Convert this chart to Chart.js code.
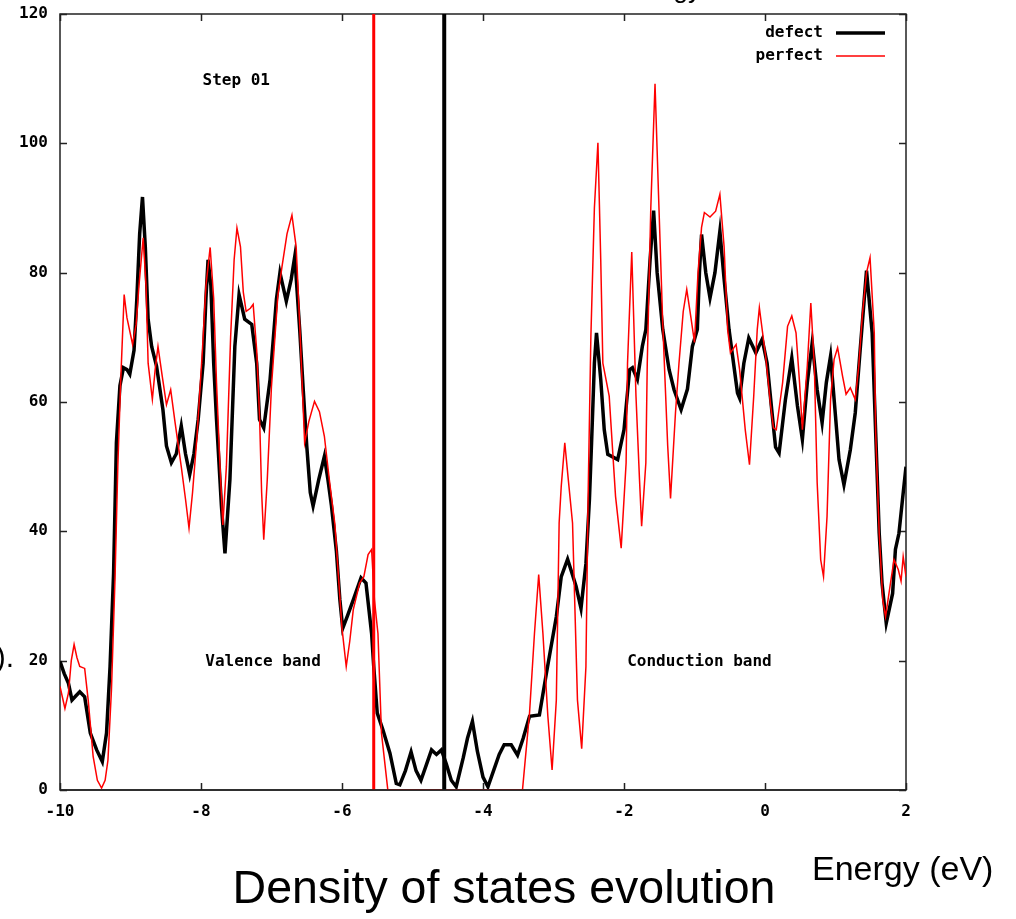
<!DOCTYPE html>
<html lang="en">
<head>
<meta charset="UTF-8" />
<title>Density of states evolution</title>
<script src="https://cdn.jsdelivr.net/npm/chart.js"></script>
<style>
  body { margin: 0; background: #fff; }
  canvas { display: block; }
</style>
</head>
<body>
<canvas id="dos" width="1016" height="919"></canvas>
<script>
  // energies (eV) and DOS
  const defectEnergy = [
    -10.00, -9.94, -9.88, -9.83, -9.78, -9.72, -9.65, -9.57, -9.48, -9.40,
    -9.34, -9.29, -9.24, -9.20, -9.15, -9.10, -9.05, -9.01, -8.95, -8.91,
    -8.87, -8.83, -8.79, -8.75, -8.70, -8.63, -8.54, -8.49, -8.42, -8.35,
    -8.28, -8.22, -8.16, -8.10, -8.04, -7.97, -7.93, -7.90, -7.86, -7.82,
    -7.78, -7.71, -7.66, -7.59, -7.52, -7.46, -7.38, -7.28, -7.21, -7.17,
    -7.11, -7.02, -6.93, -6.88, -6.79, -6.72, -6.67, -6.60, -6.55, -6.50,
    -6.45, -6.41, -6.33, -6.25, -6.20, -6.15, -6.08, -6.03, -5.99, -5.92,
    -5.84, -5.73, -5.66, -5.58, -5.55, -5.50, -5.42, -5.32, -5.23, -5.18,
    -5.10, -5.02, -4.95, -4.88, -4.80, -4.73, -4.66, -4.59, -4.52, -4.45,
    -4.38, -4.28, -4.22, -4.15, -4.08, -4.00, -3.93, -3.85, -3.77, -3.70,
    -3.60, -3.51, -3.43, -3.34, -3.20, -3.10, -2.96, -2.89, -2.80, -2.68,
    -2.61, -2.54, -2.49, -2.46, -2.42, -2.39, -2.33, -2.28, -2.23, -2.09,
    -2.00, -1.92, -1.88, -1.81, -1.74, -1.69, -1.63, -1.58, -1.53, -1.45,
    -1.36, -1.29, -1.19, -1.10, -1.03, -0.96, -0.93, -0.90, -0.84, -0.78,
    -0.71, -0.64, -0.58, -0.51, -0.46, -0.39, -0.36, -0.30, -0.23, -0.13,
    -0.04, 0.03, 0.10, 0.15, 0.20, 0.29, 0.38, 0.46, 0.53, 0.60,
    0.67, 0.74, 0.81, 0.87, 0.93, 1.00, 1.05, 1.12, 1.21, 1.28,
    1.35, 1.44, 1.52, 1.57, 1.62, 1.66, 1.72, 1.81, 1.85, 1.90,
    1.95, 2.00
  ];
  const defectDos = [
    19.9, 18.0, 16.5, 13.9, 14.5, 15.2, 14.4, 8.8, 6.2, 4.4,
    8.8, 19.1, 33.5, 53.7, 62.5, 65.3, 65.0, 64.3, 68.0, 76.0,
    86.0, 91.7, 84.0, 72.8, 68.6, 65.5, 58.8, 53.2, 50.6, 52.0,
    56.3, 52.0, 48.8, 52.0, 57.3, 66.0, 76.0, 82.0, 78.0, 66.0,
    57.3, 43.9, 36.6, 48.0, 68.6, 76.6, 72.8, 72.0, 66.0, 57.3,
    56.0, 63.5, 75.9, 80.0, 75.6, 79.0, 82.5, 71.2, 61.9, 53.2,
    46.0, 43.9, 48.0, 51.6, 48.0, 44.0, 37.0, 29.4, 25.0, 27.0,
    29.4, 32.8, 32.0, 24.2, 19.1, 11.9, 9.3, 5.7, 1.0, 0.8,
    3.0, 5.9, 3.0, 1.5, 4.0, 6.2, 5.5, 6.2, 4.0, 1.5,
    0.5, 5.0, 8.0, 10.6, 6.0, 2.0, 0.5, 3.0, 5.5, 7.0,
    7.0, 5.4, 8.0, 11.4, 11.6, 18.1, 26.8, 33.0, 35.7, 31.5,
    28.1, 35.0, 45.0, 53.7, 66.0, 70.7, 63.5, 55.7, 51.9, 51.1,
    55.7, 65.0, 65.3, 63.5, 68.6, 71.2, 82.0, 89.6, 80.0, 71.2,
    65.0, 61.9, 58.8, 62.0, 68.6, 71.2, 80.0, 85.9, 80.0, 76.1,
    80.0, 86.4, 79.0, 71.2, 67.1, 61.4, 60.6, 66.0, 69.9, 67.6,
    69.7, 66.0, 58.3, 53.0, 52.1, 60.4, 66.8, 59.4, 54.2, 63.0,
    69.2, 61.9, 56.8, 63.0, 67.1, 57.8, 51.1, 47.2, 52.6, 58.3,
    68.1, 80.3, 70.7, 55.2, 39.7, 32.0, 25.8, 30.4, 37.2, 39.7,
    44.9, 50.0
  ];
  const perfectEnergy = [
    -10.00, -9.93, -9.88, -9.84, -9.80, -9.76, -9.72, -9.65, -9.60, -9.53,
    -9.47, -9.41, -9.36, -9.32, -9.27, -9.22, -9.18, -9.14, -9.09, -9.05,
    -8.97, -8.92, -8.88, -8.82, -8.78, -8.75, -8.69, -8.65, -8.61, -8.55,
    -8.49, -8.43, -8.37, -8.28, -8.22, -8.17, -8.12, -8.06, -7.98, -7.93,
    -7.87, -7.82, -7.78, -7.73, -7.69, -7.64, -7.58, -7.53, -7.49, -7.44,
    -7.40, -7.36, -7.30, -7.26, -7.21, -7.17, -7.14, -7.11, -7.06, -7.00,
    -6.91, -6.85, -6.78, -6.71, -6.65, -6.60, -6.53, -6.47, -6.39, -6.32,
    -6.25, -6.18, -6.10, -6.05, -6.00, -5.94, -5.89, -5.84, -5.75, -5.69,
    -5.63, -5.58, -5.54, -5.49, -5.44, -5.35, -5.00, -4.50, -4.00, -3.44,
    -3.34, -3.27, -3.21, -3.15, -3.08, -3.02, -2.96, -2.92, -2.89, -2.84,
    -2.79, -2.73, -2.66, -2.60, -2.54, -2.51, -2.47, -2.42, -2.37, -2.33,
    -2.30, -2.21, -2.12, -2.04, -1.97, -1.95, -1.89, -1.83, -1.78, -1.75,
    -1.69, -1.67, -1.62, -1.56, -1.51, -1.45, -1.38, -1.34, -1.27, -1.22,
    -1.16, -1.11, -1.05, -1.00, -0.95, -0.90, -0.86, -0.78, -0.70, -0.64,
    -0.58, -0.53, -0.49, -0.41, -0.36, -0.28, -0.22, -0.16, -0.11, -0.08,
    0.01, 0.08, 0.12, 0.16, 0.25, 0.32, 0.38, 0.44, 0.49, 0.53,
    0.60, 0.65, 0.70, 0.74, 0.79, 0.83, 0.88, 0.93, 0.98, 1.03,
    1.10, 1.15, 1.21, 1.28, 1.33, 1.38, 1.44, 1.49, 1.55, 1.57,
    1.62, 1.67, 1.71, 1.78, 1.83, 1.89, 1.93, 1.96, 2.00
  ];
  const perfectDos = [
    16.0, 12.6, 15.0, 20.0, 22.5, 20.5, 19.1, 18.8, 13.9, 5.2,
    1.5, 0.3, 1.5, 4.6, 15.5, 32.5, 50.0, 63.0, 76.6, 73.0,
    68.9, 72.0, 78.0, 85.4, 78.0, 66.0, 60.4, 65.0, 68.6, 64.0,
    59.6, 61.9, 57.0, 50.0, 45.0, 40.5, 46.0, 54.2, 68.0, 78.0,
    83.9, 76.0, 63.0, 50.0, 41.0, 50.0, 70.0, 82.0, 86.9, 84.0,
    77.0, 74.0, 74.5, 75.1, 68.0, 58.0, 46.0, 38.7, 48.0, 62.5,
    76.4, 81.0, 86.0, 88.9, 84.0, 72.0, 53.7, 57.0, 60.1, 58.5,
    54.7, 48.0, 41.0, 33.0, 25.0, 19.1, 23.0, 27.9, 32.0, 33.0,
    36.4, 37.2, 29.4, 24.2, 8.8, 0.0, 0.0, 0.0, 0.0, 0.0,
    11.9, 24.2, 33.3, 24.2, 11.4, 3.1, 13.9, 41.3, 47.0, 53.7,
    48.0, 41.3, 13.9, 6.4, 19.1, 44.9, 70.0, 90.0, 100.1, 82.0,
    66.0, 60.9, 45.4, 37.4, 50.6, 66.0, 83.2, 60.9, 48.0, 40.8,
    50.6, 66.0, 90.0, 109.2, 92.0, 72.0, 53.2, 45.1, 58.3, 66.0,
    74.0, 77.4, 73.0, 69.2, 80.0, 87.0, 89.3, 88.6, 89.5, 92.1,
    84.0, 71.2, 67.6, 68.9, 65.0, 55.7, 50.3, 60.9, 71.2, 74.6,
    67.0, 59.4, 56.0, 55.7, 63.0, 71.7, 73.3, 70.7, 63.0, 55.7,
    65.6, 75.3, 65.6, 47.5, 35.6, 33.0, 42.3, 60.4, 66.6, 68.4,
    64.0, 61.2, 62.2, 60.4, 65.6, 73.3, 80.0, 82.3, 70.7, 55.2,
    39.7, 29.4, 26.8, 32.0, 35.6, 34.1, 32.3, 36.1, 33.0
  ];
  // Fermi levels (vertical lines)
  const fermiDefect = -4.55;
  const fermiPerfect = -5.55;

  const seriesNames = ['defect', 'perfect'];
  const bandNames = ['Step 01', 'Valence band', 'Conduction band'];

  const monoFont = { family: '"DejaVu Sans Mono", monospace', size: 16, weight: 'bold' };
  const black = '#000000';
  const red = '#ff0000';

  const toPoints = (xs, ys) => xs.map((e, i) => ({ x: e, y: ys[i] }));

  // box with inward ticks on every side (gnuplot style)
  const framePlugin = {
    id: 'frame',
    beforeDatasetsDraw(chart) {
      const { ctx, chartArea: a, scales: { x, y } } = chart;
      ctx.save();
      ctx.strokeStyle = '#222';
      ctx.lineWidth = 1.5;
      ctx.strokeRect(a.left, a.top, a.right - a.left, a.bottom - a.top);
      ctx.beginPath();
      x.ticks.forEach(t => {
        const px = Math.round(x.getPixelForValue(t.value)) + 0.5;
        ctx.moveTo(px, a.bottom); ctx.lineTo(px, a.bottom - 7);
        ctx.moveTo(px, a.top); ctx.lineTo(px, a.top + 7);
      });
      y.ticks.forEach(t => {
        const py = Math.round(y.getPixelForValue(t.value)) + 0.5;
        ctx.moveTo(a.left, py); ctx.lineTo(a.left + 7, py);
        ctx.moveTo(a.right, py); ctx.lineTo(a.right - 7, py);
      });
      ctx.stroke();
      ctx.restore();
    },
    afterDatasetsDraw(chart) {
      // keep the zero baseline on top of the curves, as in the original
      const { ctx, chartArea: a } = chart;
      ctx.save();
      ctx.strokeStyle = '#222';
      ctx.lineWidth = 1.5;
      ctx.beginPath();
      ctx.moveTo(a.left, a.bottom);
      ctx.lineTo(a.right, a.bottom);
      ctx.stroke();
      ctx.restore();
    },
    afterDraw(chart) {
      const { ctx, chartArea: a, scales: { x, y } } = chart;
      ctx.save();
      ctx.fillStyle = '#000';
      ctx.font = 'bold 16px "DejaVu Sans Mono", monospace';
      ctx.textBaseline = 'middle';

      // labels inside the plot
      ctx.textAlign = 'center';
      ctx.fillText(bandNames[0], x.getPixelForValue(-7.5), y.getPixelForValue(109.6));
      ctx.fillText(bandNames[1], x.getPixelForValue(-7.12), y.getPixelForValue(19.8));
      ctx.fillText(bandNames[2], x.getPixelForValue(-0.93), y.getPixelForValue(19.8));

      // legend, top right
      ctx.textAlign = 'right';
      const ds = chart.data.datasets;
      [0, 1].forEach(i => {
        const ly = a.top + 19 + i * 23;
        ctx.fillText(seriesNames[i], a.right - 83, ly);
        ctx.beginPath();
        ctx.strokeStyle = ds[i].borderColor;
        ctx.lineWidth = ds[i].borderWidth;
        ctx.moveTo(a.right - 70, ly);
        ctx.lineTo(a.right - 21, ly);
        ctx.stroke();
      });

      // captions under the plot
      ctx.textBaseline = 'alphabetic';
      ctx.font = '46.5px "Liberation Sans", Arial, sans-serif';
      ctx.textAlign = 'center';
      ctx.fillText('Density of states evolution', 504, 903);
      ctx.font = '34px "Liberation Sans", Arial, sans-serif';
      ctx.textAlign = 'left';
      ctx.fillText('Energy (eV)', 812, 880);

      // cut-off fragments at the page edges
      ctx.font = '26px "Liberation Sans", Arial, sans-serif';
      ctx.textAlign = 'right';
      ctx.fillText('Energy', 701, -2);
      ctx.font = '30px "Liberation Sans", Arial, sans-serif';
      ctx.fillText(').', 14, 667);
      ctx.restore();
    }
  };

  new Chart(document.getElementById('dos'), {
    type: 'scatter',
    data: {
      datasets: [
        {
          label: seriesNames[0],
          data: toPoints(defectEnergy, defectDos),
          borderColor: black,
          borderWidth: 3.5,
          showLine: true,
          pointRadius: 0,
          order: 2
        },
        {
          label: seriesNames[1],
          data: toPoints(perfectEnergy, perfectDos),
          borderColor: red,
          borderWidth: 1.5,
          showLine: true,
          pointRadius: 0,
          order: 1
        },
        {
          label: 'Ef defect',
          data: [{ x: fermiDefect, y: 0 }, { x: fermiDefect, y: 120 }],
          borderColor: black,
          borderWidth: 4,
          showLine: true,
          pointRadius: 0,
          clip: 3,
          order: 0
        },
        {
          label: 'Ef perfect',
          data: [{ x: fermiPerfect, y: 0 }, { x: fermiPerfect, y: 120 }],
          borderColor: red,
          borderWidth: 3,
          showLine: true,
          pointRadius: 0,
          clip: 3,
          order: 0
        }
      ]
    },
    options: {
      responsive: false,
      animation: false,
      layout: { padding: { top: 14, right: 110, left: 0, bottom: 0 } },
      plugins: {
        legend: { display: false },
        tooltip: { enabled: false }
      },
      scales: {
        x: {
          type: 'linear',
          min: -10,
          max: 2,
          ticks: { stepSize: 2, color: '#000', font: monoFont, padding: 12, maxRotation: 0 },
          grid: { display: false, drawTicks: false },
          border: { display: false },
          afterFit(scale) { scale.height = 129; }
        },
        y: {
          min: 0,
          max: 120,
          ticks: { stepSize: 20, color: '#000', font: monoFont, padding: 12 },
          grid: { display: false, drawTicks: false },
          border: { display: false },
          afterFit(scale) {
            scale.width = 60;
            scale.paddingTop = 0;
            scale.paddingBottom = 0;
          }
        }
      }
    },
    plugins: [framePlugin]
  });
</script>
</body>
</html>
